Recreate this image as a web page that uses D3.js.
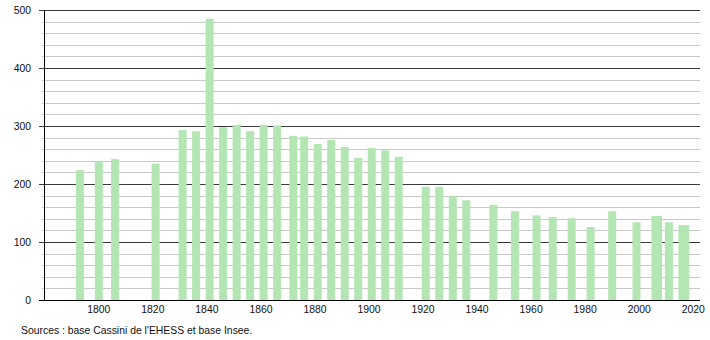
<!DOCTYPE html>
<html>
<head>
<meta charset="utf-8">
<script src="https://cdn.jsdelivr.net/npm/d3@7"></script>
<style>
  body { margin: 0; background: #fff; }
  svg { display: block; font-family: "Liberation Sans", Arial, sans-serif; }
</style>
</head>
<body>
<div id="chart"></div>
<script>
// census years and population
const years = [1793, 1800, 1806, 1821, 1831, 1836, 1841, 1846, 1851, 1856, 1861, 1866,
  1872, 1876, 1881, 1886, 1891, 1896, 1901, 1906, 1911, 1921, 1926, 1931, 1936,
  1946, 1954, 1962, 1968, 1975, 1982, 1990, 1999, 2006, 2007, 2011, 2016, 2017]
const population = [224, 239, 243, 235, 293, 291, 485, 298, 302, 291, 302, 301,
  283, 282, 269, 276, 264, 245, 262, 258, 247, 195, 195, 179, 172,
  164, 153, 146, 143, 141, 126, 153, 134, 145, 145, 134, 129, 129]
const xTicks = [1800, 1820, 1840, 1860, 1880, 1900, 1920, 1940, 1960, 1980, 2000, 2020]
const yTicks = [0, 100, 200, 300, 400, 500]
const source = "Sources : base Cassini de l'EHESS et base Insee."

const data = years.map((y, i) => ({ year: y, value: population[i] }))

const width = 710
const height = 340
const plotLeft = 44, plotRight = 700, plotTop = 10, plotBottom = 300
const fontSize = 10.4

const x = d3.scaleLinear().domain([1780, 2022.5]).range([plotLeft + 0.8, plotRight])
const y = d3.scaleLinear().domain([0, 500]).range([plotBottom, plotTop])

const svg = d3.select("#chart").append("svg")
  .attr("width", width)
  .attr("height", height)

// minor grid every 20
const minor = d3.range(20, 500, 20).filter(v => v % 100 !== 0)
svg.append("g")
  .selectAll("line")
  .data(minor)
  .join("line")
  .attr("x1", plotLeft - 2).attr("x2", plotRight)
  .attr("y1", d => Math.round(y(d)) + 0.5).attr("y2", d => Math.round(y(d)) + 0.5)
  .attr("stroke", "#c8c8c8")
  .attr("stroke-width", 1)

// major grid every 100
svg.append("g")
  .selectAll("line")
  .data(yTicks.filter(v => v > 0))
  .join("line")
  .attr("x1", plotLeft - 5).attr("x2", plotRight)
  .attr("y1", d => Math.round(y(d)) + 0.5).attr("y2", d => Math.round(y(d)) + 0.5)
  .attr("stroke", "#3a3a3a")
  .attr("stroke-width", 1)

// bars
const barW = 8
svg.append("g")
  .selectAll("rect")
  .data(data)
  .join("rect")
  .attr("x", d => x(d.year) - barW / 2)
  .attr("y", d => y(d.value))
  .attr("width", barW)
  .attr("height", d => y(0) - y(d.value))
  .attr("fill", "#b3e6b3")

// axis lines
svg.append("line")
  .attr("x1", plotLeft + 0.5).attr("x2", plotLeft + 0.5)
  .attr("y1", plotTop).attr("y2", plotBottom)
  .attr("stroke", "#000")
svg.append("line")
  .attr("x1", plotLeft - 5).attr("x2", plotRight)
  .attr("y1", plotBottom + 0.5).attr("y2", plotBottom + 0.5)
  .attr("stroke", "#000")

// y labels
svg.append("g")
  .selectAll("text")
  .data(yTicks)
  .join("text")
  .attr("x", 31)
  .attr("y", d => y(d))
  .attr("dy", "0.35em")
  .attr("text-anchor", "end")
  .attr("font-size", fontSize)
  .attr("fill", "#111")
  .text(d => d)

// x labels
svg.append("g")
  .selectAll("text")
  .data(xTicks)
  .join("text")
  .attr("x", d => x(d))
  .attr("y", 313)
  .attr("text-anchor", "middle")
  .attr("font-size", fontSize)
  .attr("fill", "#111")
  .text(d => d)

svg.append("text")
  .attr("x", 21)
  .attr("y", 334)
  .attr("font-size", fontSize)
  .attr("fill", "#111")
  .text(source)
</script>
</body>
</html>
